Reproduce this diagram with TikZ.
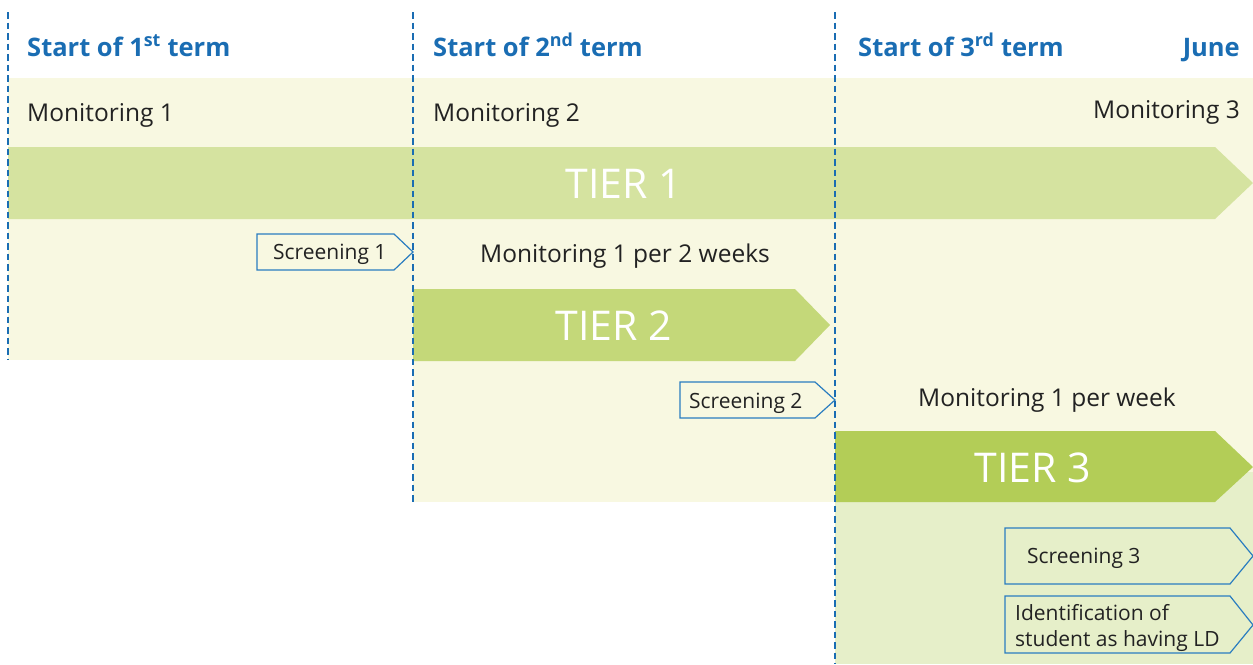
\documentclass[tikz,border=0pt]{standalone}
\usepackage{fontspec}
\setmainfont{Open Sans}
\definecolor{bgyellow}{HTML}{F8F8E1}
\definecolor{bggreen}{HTML}{E6EFC9}
\definecolor{tierone}{HTML}{D5E3A0}
\definecolor{tiertwo}{HTML}{C4D879}
\definecolor{tierthree}{HTML}{B3CD57}
\definecolor{termblue}{HTML}{1A6DB3}
\definecolor{boxblue}{HTML}{2A7DC0}
\definecolor{inkgrey}{HTML}{222222}
\begin{document}
\begin{tikzpicture}[
    x=1pt, y=-1pt,
    hdr/.style={anchor=base west, text=termblue, font=\fontsize{25.5}{28}\selectfont\bfseries, inner sep=0pt},
    mon/.style={anchor=base west, text=inkgrey, font=\fontsize{24.5}{28}\selectfont, inner sep=0pt},
    tiertext/.style={anchor=base, text=white, font=\fontsize{41}{44}\selectfont, inner sep=0pt},
    scrtext/.style={anchor=base west, text=inkgrey, font=\fontsize{21}{25}\selectfont, inner sep=0pt},
    scrbox/.style={draw=boxblue, line width=1.2pt, line join=miter},
    termline/.style={draw=termblue, line width=2.8pt, dash pattern=on 6.5pt off 4pt}
  ]
  \useasboundingbox (0,0) rectangle (1253,664);

  % background bands
  \fill[bgyellow] (8,78) rectangle (413,360);
  \fill[bgyellow] (413,78) rectangle (835,502);
  \fill[bgyellow] (835,78) rectangle (1253,472);
  \fill[bggreen] (835,472) rectangle (1253,664);

  % tier arrows
  \fill[tierone] (8,147) -- (1215,147) -- (1253,183) -- (1215,219) -- (8,219) -- cycle;
  \fill[tiertwo] (413,289) -- (795,289) -- (830,325) -- (795,361) -- (413,361) -- cycle;
  \fill[tierthree] (835,431) -- (1215,431) -- (1253,467) -- (1215,502) -- (835,502) -- cycle;

  \node[tiertext] (tier1) at (624,198) {TIER 1};
  \node[tiertext] (tier2) at (614,340) {TIER 2};
  \node[tiertext] (tier3) at (1033,482) {TIER 3};

  % term markers
  \coordinate (term1top) at (8,12);
  \coordinate (term1bot) at (8,360);
  \coordinate (term2top) at (413,12);
  \coordinate (term2bot) at (413,502);
  \coordinate (term3top) at (835,12);
  \coordinate (term3bot) at (835,664);
  \draw[termline] (term1top) -- (term1bot);
  \draw[termline] (term2top) -- (term2bot);
  \draw[termline] (term3top) -- (term3bot);

  \node[hdr] (start1) at (27,56) {Start of 1\textsuperscript{st} term};
  \node[hdr] (start2) at (433,56) {Start of 2\textsuperscript{nd} term};
  \node[hdr] (start3) at (858,56) {Start of 3\textsuperscript{rd} term};
  \node[hdr, anchor=base east] (june) at (1240,56) {June};

  % monitoring
  \node[mon] (mon1) at (27,121) {Monitoring 1};
  \node[mon] (mon2) at (433,121) {Monitoring 2};
  \node[mon, anchor=base east] (mon3) at (1240,118) {Monitoring 3};
  \node[mon, anchor=base] (monbiweekly) at (625,262) {Monitoring 1 per 2 weeks};
  \node[mon, anchor=base] (monweekly) at (1047,406) {Monitoring 1 per week};

  % screening boxes
  \draw[scrbox] (257,234) -- (394,234) -- (413,252) -- (394,270) -- (257,270) -- cycle;
  \node[scrtext] (scr1) at (273,259) {Screening 1};
  \draw[scrbox] (680,382) -- (815,382) -- (835,400) -- (815,418) -- (680,418) -- cycle;
  \node[scrtext] (scr2) at (689,408) {Screening 2};
  \draw[scrbox] (1005,528) -- (1230,528) -- (1253,556) -- (1230,584) -- (1005,584) -- cycle;
  \node[scrtext] (scr3) at (1027,563) {Screening 3};
  \draw[scrbox] (1005,596) -- (1230,596) -- (1253,625) -- (1230,653) -- (1005,653) -- cycle;
  \node[scrtext] (ident1) at (1015,620) {Identification of};
  \node[scrtext] (ident2) at (1015,646) {student as having LD};
\end{tikzpicture}
\end{document}
